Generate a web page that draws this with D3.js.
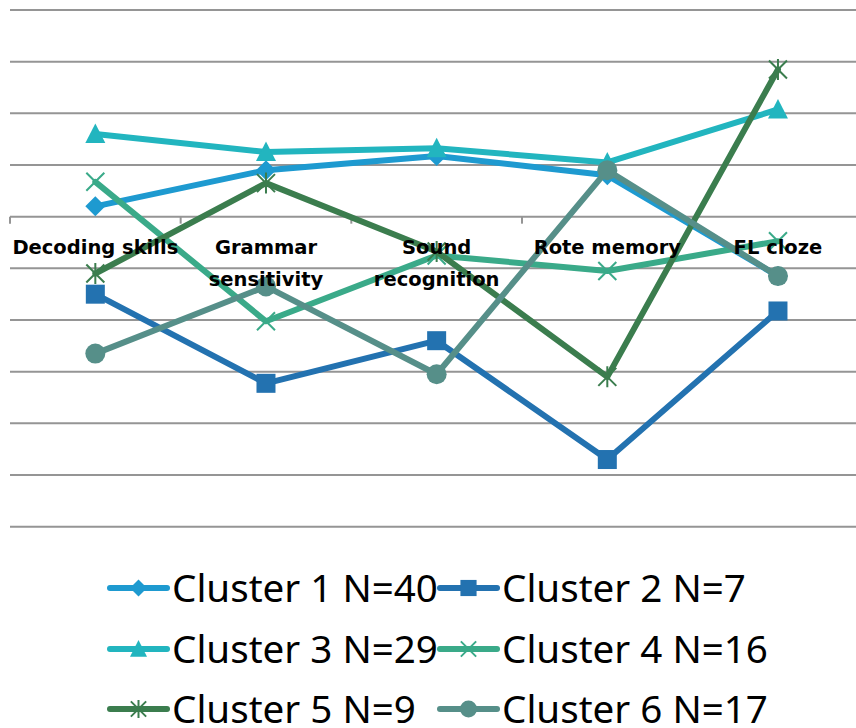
<!DOCTYPE html>
<html>
<head>
<meta charset="utf-8">
<script src="https://cdn.jsdelivr.net/npm/d3@7"></script>
<style>
  html, body { margin: 0; padding: 0; background: #fff; }
  svg { display: block; }
</style>
</head>
<body>
<svg id="chart" width="856" height="728"></svg>
<script>
// Aptitude profiles (standardised scores) per cluster
const categories = ["Decoding skills", "Grammar sensitivity", "Sound recognition", "Rote memory", "FL cloze"];
const categoryLines = [["Decoding skills"], ["Grammar", "sensitivity"], ["Sound", "recognition"], ["Rote memory"], ["FL cloze"]];
const seriesNames = ["Cluster 1 N=40", "Cluster 2 N=7", "Cluster 3 N=29", "Cluster 4 N=16", "Cluster 5 N=9", "Cluster 6 N=17"];
const cluster1 = [0.04, 0.18, 0.235, 0.16, -0.23];
const cluster2 = [-0.30, -0.645, -0.48, -0.94, -0.365];
const cluster3 = [0.32, 0.25, 0.265, 0.21, 0.415];
const cluster4 = [0.135, -0.405, -0.15, -0.21, -0.095];
const cluster5 = [-0.22, 0.13, -0.135, -0.62, 0.57];
const cluster6 = [-0.53, -0.27, -0.61, 0.18, -0.23];
const yTicks = [-1.2, -1.0, -0.8, -0.6, -0.4, -0.2, 0, 0.2, 0.4, 0.6, 0.8];

const colors = ["#1E9AD0", "#2372B0", "#22B5BF", "#3AAA89", "#3B7D4E", "#568F89"];
const markers = ["diamond", "square", "triangle", "x", "star", "circle"];
const seriesValues = [cluster1, cluster2, cluster3, cluster4, cluster5, cluster6];

const svg = d3.select("#chart");
const plot = { left: 10, right: 863.3, top: 10, bottom: 526.7 };

const x = d3.scalePoint().domain(categories).range([plot.left, plot.right]).padding(0.5);
const y = d3.scaleLinear().domain([-1.2, 0.8]).range([plot.bottom, plot.top]);
const step = x.step();

// horizontal gridlines
svg.append("g").selectAll("line").data(yTicks).join("line")
  .attr("x1", plot.left).attr("x2", plot.right)
  .attr("y1", d => y(d)).attr("y2", d => y(d))
  .attr("stroke", "#959595").attr("stroke-width", 2);

// category axis at zero with tick marks between categories
const axisG = svg.append("g").attr("transform", `translate(0,${y(0)})`);
const boundaries = d3.range(categories.length + 1).map(i => plot.left + i * step);
axisG.selectAll("line.tick").data(boundaries).join("line")
  .attr("class", "tick")
  .attr("x1", d => d).attr("x2", d => d)
  .attr("y1", 0).attr("y2", 7)
  .attr("stroke", "#959595").attr("stroke-width", 2);

// marker shapes
function drawMarker(g, type, color, s) {
  if (type === "diamond") {
    g.append("path").attr("d", `M0,${-s}L${s},0L0,${s}L${-s},0Z`).attr("fill", color);
  } else if (type === "square") {
    g.append("rect").attr("x", -s * 0.95).attr("y", -s * 0.95).attr("width", s * 1.9).attr("height", s * 1.9).attr("fill", color);
  } else if (type === "triangle") {
    g.append("path").attr("d", `M0,${-s * 1.05}L${s},${s * 0.9}L${-s},${s * 0.9}Z`).attr("fill", color);
  } else if (type === "circle") {
    g.append("circle").attr("r", s).attr("fill", color);
  } else if (type === "x") {
    const k = s * 0.9;
    g.append("path").attr("d", `M${-k},${-k}L${k},${k}M${k},${-k}L${-k},${k}`)
      .attr("stroke", color).attr("stroke-width", 2).attr("fill", "none");
  } else if (type === "star") {
    const k = s * 0.9;
    g.append("path").attr("d", `M${-k},${-k}L${k},${k}M${k},${-k}L${-k},${k}M0,${-s * 1.05}L0,${s * 1.05}`)
      .attr("stroke", color).attr("stroke-width", 2).attr("fill", "none");
  }
}

const line = d3.line().x((d, i) => x(categories[i])).y(d => y(d));

const seriesG = svg.append("g");
seriesValues.forEach((vals, si) => {
  const g = seriesG.append("g");
  g.append("path").datum(vals).attr("d", line)
    .attr("fill", "none").attr("stroke", colors[si]).attr("stroke-width", 6)
    .attr("stroke-linejoin", "round").attr("stroke-linecap", "round");
  vals.forEach((v, i) => {
    const mg = g.append("g").attr("transform", `translate(${x(categories[i])},${y(v)})`);
    drawMarker(mg, markers[si], colors[si], 10);
  });
});

// size a font so that a sample string spans the wanted width
function fitFontSize(family, weight, sample, width, base) {
  const probe = svg.append("text").attr("font-family", family).attr("font-weight", weight)
    .attr("font-size", base).text(sample);
  const w = probe.node().getComputedTextLength();
  probe.remove();
  return base * width / w;
}

// category labels
const labelFamily = "'DejaVu Sans', sans-serif";
const labelSize = fitFontSize(labelFamily, "bold", "Decoding skills", 166, 18);
const labelG = svg.append("g")
  .attr("font-family", labelFamily)
  .attr("font-weight", "bold").attr("font-size", labelSize).attr("fill", "#000")
  .attr("text-anchor", "middle");
categoryLines.forEach((lines, i) => {
  const t = labelG.append("text").attr("x", x(categories[i])).attr("y", 254);
  lines.forEach((ln, j) => {
    t.append("tspan").attr("x", x(categories[i])).attr("dy", j === 0 ? 0 : 32).text(ln);
  });
});

// legend, two columns by three rows
const legendFamily = "'Noto Sans', sans-serif";
const legendSize = fitFontSize(legendFamily, "normal", seriesNames[0], 266, 32);
const legendCols = [107, 437];
const legendRows = [588, 649, 709];
const legendG = svg.append("g");
seriesNames.forEach((name, si) => {
  const lx = legendCols[si % 2];
  const ly = legendRows[Math.floor(si / 2)];
  const g = legendG.append("g").attr("transform", `translate(${lx},${ly})`);
  g.append("line").attr("x1", 3).attr("x2", 60).attr("y1", 0).attr("y2", 0)
    .attr("stroke", colors[si]).attr("stroke-width", 6).attr("stroke-linecap", "round");
  const mg = g.append("g").attr("transform", "translate(31.5,0)");
  drawMarker(mg, markers[si], colors[si], 8.5);
  g.append("text").attr("x", 65).attr("y", 0).attr("dy", "0.36em")
    .attr("font-family", legendFamily).attr("font-size", legendSize)
    .attr("fill", "#000").text(name);
});
</script>
</body>
</html>
